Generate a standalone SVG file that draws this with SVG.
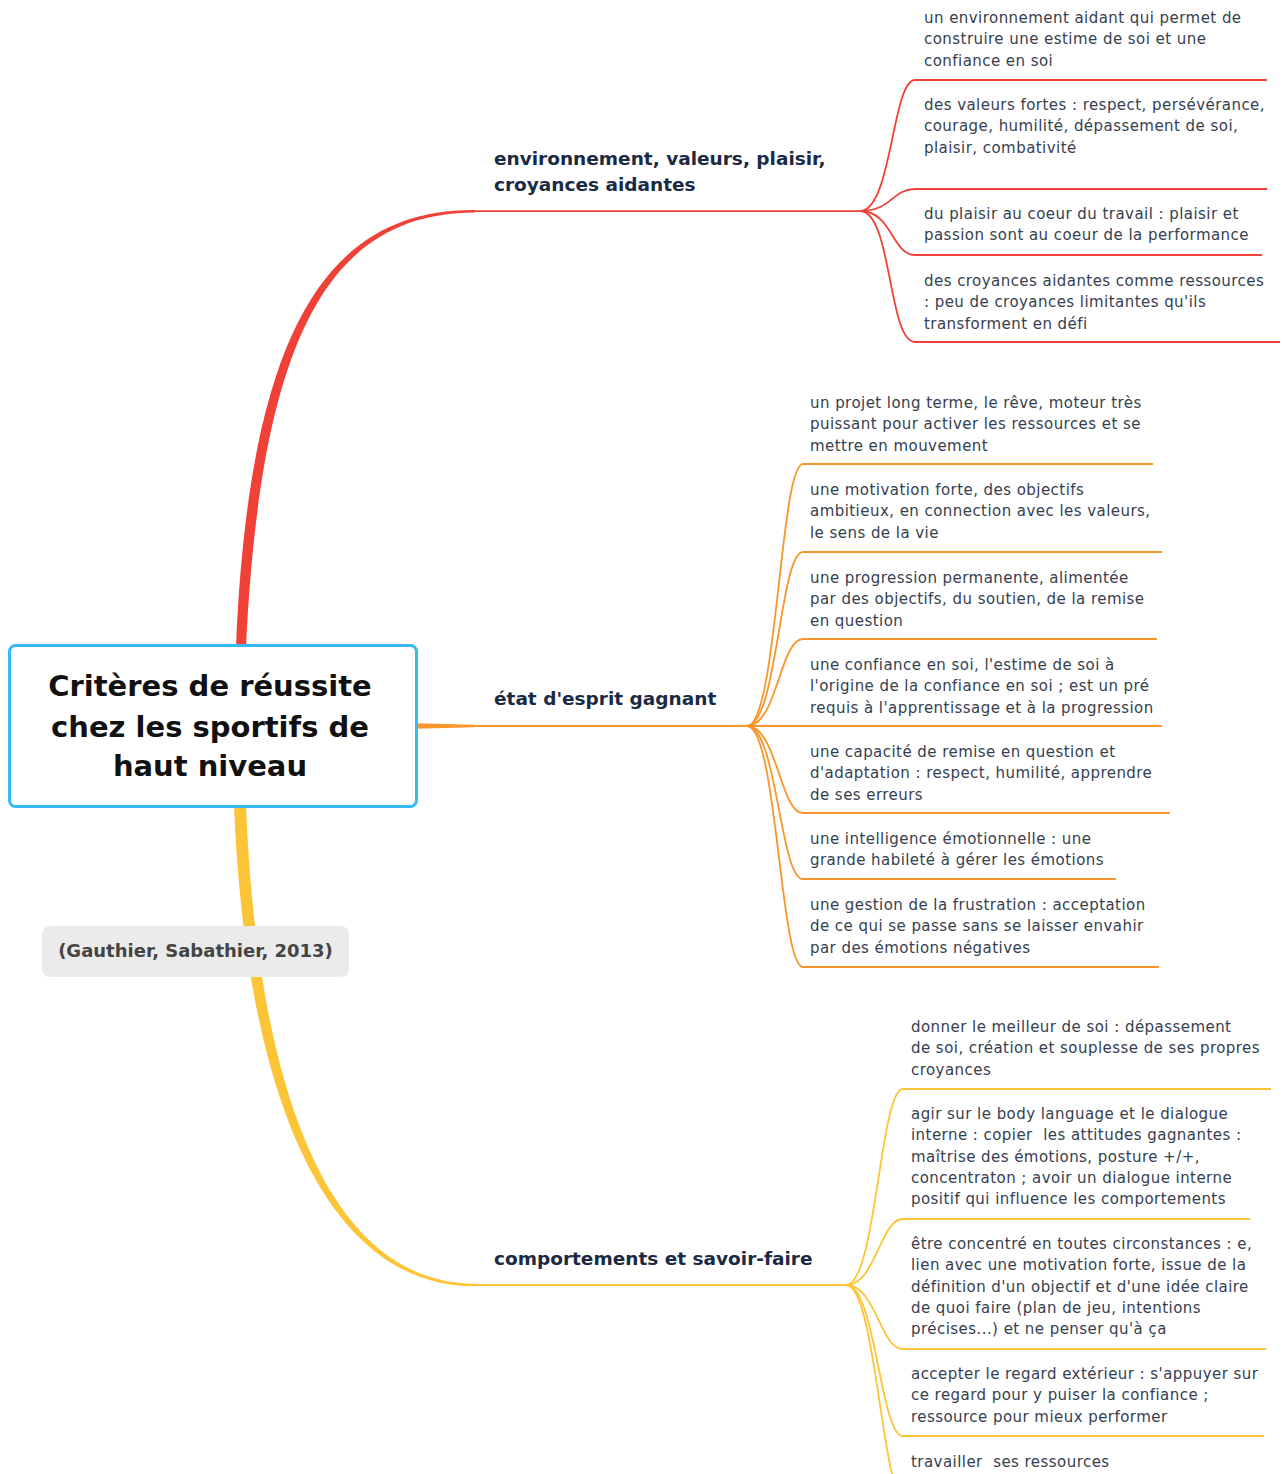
<svg xmlns="http://www.w3.org/2000/svg" width="1282" height="1474" viewBox="0 0 1282 1474">
<style>
.c{font-family:"DejaVu Sans","Liberation Sans",sans-serif;font-size:15px;letter-spacing:0.45px;fill:#36404f}
.m{font-family:"DejaVu Sans","Liberation Sans",sans-serif;font-size:18.5px;font-weight:bold;fill:#1b2a44}
.t{font-family:"DejaVu Sans","Liberation Sans",sans-serif;font-size:29px;font-weight:bold;fill:#111}
.cit{font-family:"DejaVu Sans","Liberation Sans",sans-serif;font-size:18px;font-weight:bold;fill:#444}
.r{stroke:#ef4137;fill:none;stroke-width:1.8}
.o{stroke:#f8962b;fill:none;stroke-width:1.8}
.y{stroke:#fcc537;fill:none;stroke-width:1.8}
</style>
<rect width="1282" height="1474" fill="#fff"/>
<g id="connectors">
  <!-- main branches -->
  <path d="M236,647 C249,329 328,209 475,210 L475,212.5 C332,213 261,331 246,647 Z" fill="#ef4137"/>
  <line class="r" x1="474" y1="211.2" x2="860" y2="211.2"/>
  <path d="M416,723.3 L474,724.8 L474,727.2 L416,728.7 Z" fill="#f8962b"/>
  <line class="o" x1="473" y1="726" x2="747" y2="726"/>
  <path d="M234,806 C246,1101 328,1287 475,1286.3 L475,1283.8 C332,1283 258,1099 246,806 Z" fill="#fcc537"/>
  <line class="y" x1="474" y1="1285" x2="846" y2="1285"/>
  <!-- red children -->
  <path class="r" d="M860,211 C892,211 892,80 915,80 L1267,80"/>
  <path class="r" d="M860,211 C892,211 892,189 915,189 L1267,189"/>
  <path class="r" d="M860,211 C892,211 892,255 915,255 L1262,255"/>
  <path class="r" d="M860,211 C892,211 888,342 915,342 L1280,342"/>
  <!-- orange children -->
  <path class="o" d="M747,726 C777,726 780,464 803,464 L1153,464"/>
  <path class="o" d="M747,726 C777,726 780,552 803,552 L1162,552"/>
  <path class="o" d="M747,726 C777,726 780,639 803,639 L1157,639"/>
  <path class="o" d="M747,726 C777,726 780,726 803,726 L1162,726"/>
  <path class="o" d="M747,726 C777,726 780,813 803,813 L1170,813"/>
  <path class="o" d="M747,726 C777,726 780,879 803,879 L1116,879"/>
  <path class="o" d="M747,726 C777,726 780,967 803,967 L1159,967"/>
  <!-- yellow children -->
  <path class="y" d="M846,1285 C876,1285 880,1089 903,1089 L1271,1089"/>
  <path class="y" d="M846,1285 C876,1285 880,1219 903,1219 L1250,1219"/>
  <path class="y" d="M846,1285 C876,1285 880,1349 903,1349 L1266,1349"/>
  <path class="y" d="M846,1285 C876,1285 880,1436 903,1436 L1264,1436"/>
  <path class="y" d="M846,1285 C876,1285 882,1500 905,1500 L1110,1500"/>
</g>

<g id="central">
  <rect x="9.5" y="645.5" width="407" height="161" rx="6" fill="#fff" stroke="#36b9f4" stroke-width="3"/>
  <text class="t" text-anchor="middle"><tspan x="210" y="696">Critères de réussite</tspan><tspan x="210" y="737">chez les sportifs de</tspan><tspan x="210" y="776">haut niveau</tspan></text>
</g>

<g id="citation">
  <rect x="42" y="926" width="307" height="51" rx="8" fill="#ebebeb"/>
  <text class="cit" x="195.5" y="957" text-anchor="middle">(Gauthier, Sabathier, 2013)</text>
</g>

<g id="topic-environnement">
  <text class="m"><tspan x="494" y="165">environnement, valeurs, plaisir,</tspan><tspan x="494" y="191">croyances aidantes</tspan></text>
</g>
<g id="topic-etat">
  <text class="m" x="494" y="705">état d'esprit gagnant</text>
</g>
<g id="topic-comportements">
  <text class="m" x="494" y="1265">comportements et savoir-faire</text>
</g>

<g id="r1"><text class="c"><tspan x="924" y="23">un environnement aidant qui permet de</tspan><tspan x="924" y="44.3">construire une estime de soi et une</tspan><tspan x="924" y="65.6">confiance en soi</tspan></text></g>
<g id="r2"><text class="c"><tspan x="924" y="110">des valeurs fortes : respect, persévérance,</tspan><tspan x="924" y="131.3">courage, humilité, dépassement de soi,</tspan><tspan x="924" y="152.6">plaisir, combativité</tspan></text></g>
<g id="r3"><text class="c"><tspan x="924" y="219">du plaisir au coeur du travail : plaisir et</tspan><tspan x="924" y="240.3">passion sont au coeur de la performance</tspan></text></g>
<g id="r4"><text class="c"><tspan x="924" y="286">des croyances aidantes comme ressources</tspan><tspan x="924" y="307.3">: peu de croyances limitantes qu'ils</tspan><tspan x="924" y="328.6">transforment en défi</tspan></text></g>

<g id="o1"><text class="c"><tspan x="810" y="408">un projet long terme, le rêve, moteur très</tspan><tspan x="810" y="429.3">puissant pour activer les ressources et se</tspan><tspan x="810" y="450.6">mettre en mouvement</tspan></text></g>
<g id="o2"><text class="c"><tspan x="810" y="495">une motivation forte, des objectifs</tspan><tspan x="810" y="516.3">ambitieux, en connection avec les valeurs,</tspan><tspan x="810" y="537.6">le sens de la vie</tspan></text></g>
<g id="o3"><text class="c"><tspan x="810" y="583">une progression permanente, alimentée</tspan><tspan x="810" y="604.3">par des objectifs, du soutien, de la remise</tspan><tspan x="810" y="625.6">en question</tspan></text></g>
<g id="o4"><text class="c"><tspan x="810" y="670">une confiance en soi, l'estime de soi à</tspan><tspan x="810" y="691.3">l'origine de la confiance en soi ; est un pré</tspan><tspan x="810" y="712.6">requis à l'apprentissage et à la progression</tspan></text></g>
<g id="o5"><text class="c"><tspan x="810" y="757">une capacité de remise en question et</tspan><tspan x="810" y="778.3">d'adaptation : respect, humilité, apprendre</tspan><tspan x="810" y="799.6">de ses erreurs</tspan></text></g>
<g id="o6"><text class="c"><tspan x="810" y="844">une intelligence émotionnelle : une</tspan><tspan x="810" y="865.3">grande habileté à gérer les émotions</tspan></text></g>
<g id="o7"><text class="c"><tspan x="810" y="910">une gestion de la frustration : acceptation</tspan><tspan x="810" y="931.3">de ce qui se passe sans se laisser envahir</tspan><tspan x="810" y="952.6">par des émotions négatives</tspan></text></g>

<g id="y1"><text class="c"><tspan x="911" y="1032">donner le meilleur de soi : dépassement</tspan><tspan x="911" y="1053.3">de soi, création et souplesse de ses propres</tspan><tspan x="911" y="1074.6">croyances</tspan></text></g>
<g id="y2"><text class="c" xml:space="preserve"><tspan x="911" y="1119">agir sur le body language et le dialogue</tspan><tspan x="911" y="1140.3">interne : copier  les attitudes gagnantes :</tspan><tspan x="911" y="1161.6">maîtrise des émotions, posture +/+,</tspan><tspan x="911" y="1182.9">concentraton ; avoir un dialogue interne</tspan><tspan x="911" y="1204.2">positif qui influence les comportements</tspan></text></g>
<g id="y3"><text class="c"><tspan x="911" y="1249">être concentré en toutes circonstances : e,</tspan><tspan x="911" y="1270.3">lien avec une motivation forte, issue de la</tspan><tspan x="911" y="1291.6">définition d'un objectif et d'une idée claire</tspan><tspan x="911" y="1312.9">de quoi faire (plan de jeu, intentions</tspan><tspan x="911" y="1334.2">précises...) et ne penser qu'à ça</tspan></text></g>
<g id="y4"><text class="c"><tspan x="911" y="1379">accepter le regard extérieur : s'appuyer sur</tspan><tspan x="911" y="1400.3">ce regard pour y puiser la confiance ;</tspan><tspan x="911" y="1421.6">ressource pour mieux performer</tspan></text></g>
<g id="y5"><text class="c" xml:space="preserve" x="911" y="1467">travailler  ses ressources</text></g>
</svg>
